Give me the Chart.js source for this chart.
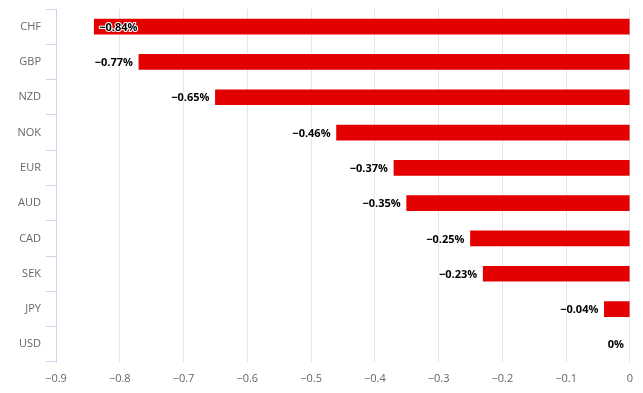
<!DOCTYPE html>
<html>
<head>
<meta charset="utf-8">
<script src="https://cdn.jsdelivr.net/npm/chart.js@4"></script>
<style>
  html, body { margin: 0; padding: 0; background: #fff; }
  #wrap { width: 643px; height: 393px; position: relative; }
</style>
</head>
<body>
<div id="wrap"><canvas id="barChart"></canvas></div>
<script>
var currencies = ["CHF", "GBP", "NZD", "NOK", "EUR", "AUD", "CAD", "SEK", "JPY", "USD"];
var changes = [-0.84, -0.77, -0.65, -0.46, -0.37, -0.35, -0.25, -0.23, -0.04, 0];
var xTicks = [-0.9, -0.8, -0.7, -0.6, -0.5, -0.4, -0.3, -0.2, -0.1, 0];

var FONT = "'Open Sans', sans-serif";

function fmt(v) {
    if (v === 0) return "0";
    return (v < 0 ? "\u2212" : "") + Math.abs(v).toString();
}

// labels next to each bar, like the original
var barLabels = {
    id: 'barLabels',
    afterDatasetsDraw: function(chart) {
        var ctx = chart.ctx;
        var area = chart.chartArea;
        var meta = chart.getDatasetMeta(0);
        ctx.save();
        ctx.font = "bold 11px " + FONT;
        ctx.textBaseline = "middle";
        ctx.lineJoin = "round";
        meta.data.forEach(function(bar, i) {
            var v = changes[i];
            var txt = fmt(v) + "%";
            var w = ctx.measureText(txt).width;
            var x, align;
            if (bar.x - 6 - w < area.left) {
                x = bar.x + 5; align = "left";
            } else {
                x = bar.x - 6; align = "right";
            }
            ctx.textAlign = align;
            ctx.lineWidth = 2;
            ctx.strokeStyle = "#ffffff";
            ctx.strokeText(txt, x, bar.y + 1);
            ctx.fillStyle = "#000000";
            ctx.fillText(txt, x, bar.y + 1);
        });
        ctx.restore();
    }
};

var barChart = new Chart(document.getElementById("barChart"), {
    type: 'bar',
    data: {
        labels: currencies,
        datasets: [{
            data: changes,
            backgroundColor: changes.map(function(v) { return v === 0 ? "rgba(0,0,0,0)" : "#e30000"; }),
            borderWidth: 0,
            barThickness: 15
        }]
    },
    options: {
        indexAxis: 'y',
        responsive: true,
        maintainAspectRatio: false,
        animation: false,
        layout: { padding: { top: 9, right: 13, left: 0, bottom: 0 } },
        plugins: {
            legend: { display: false },
            tooltip: { enabled: false }
        },
        scales: {
            x: {
                min: -0.9,
                max: 0,
                afterBuildTicks: function(scale) {
                    scale.ticks = xTicks.map(function(v) { return { value: v }; });
                },
                afterFit: function(scale) { scale.height = 31; },
                grid: { color: "#e6e6e6", drawTicks: false },
                border: { display: false },
                ticks: {
                    padding: 10,
                    color: "#666666",
                    font: { family: FONT, size: 11 },
                    callback: function(v) { return fmt(Math.round(v * 10) / 10); }
                }
            },
            y: {
                afterFit: function(scale) {
                    scale.width = 56;
                    scale.paddingTop = 0;
                    scale.paddingBottom = 0;
                },
                grid: {
                    drawOnChartArea: false,
                    color: "#ccd6eb",
                    tickLength: 10,
                    offset: true
                },
                border: { display: true, color: "#ccd6eb" },
                ticks: {
                    padding: 5,
                    color: "#666666",
                    font: { family: FONT, size: 11 }
                }
            }
        }
    },
    plugins: [barLabels]
});
</script>
</body>
</html>
